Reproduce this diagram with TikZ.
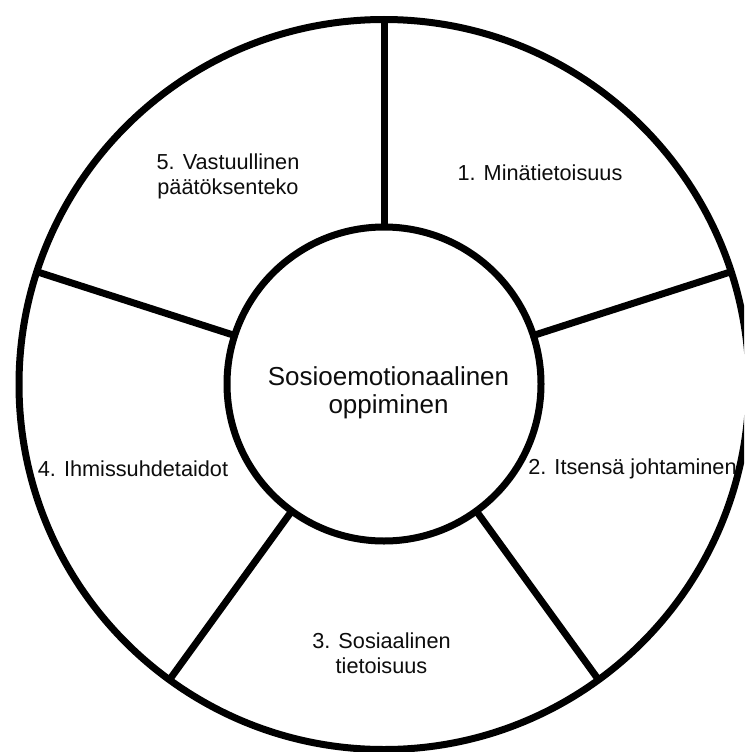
\documentclass[tikz,border=0pt]{standalone}
\usepackage{fontspec}
\setmainfont{Liberation Sans}
\begin{document}
\begin{tikzpicture}[x=1pt,y=-1pt,
  ring/.style={circle,draw=black,line width=7pt,inner sep=0pt,outer sep=0pt},
  spoke/.style={draw=black,line width=7pt},
  lbl/.style={text=black!95,font=\fontsize{21.7}{25}\selectfont,align=center,inner sep=0pt},
  mainlbl/.style={text=black!95,font=\fontsize{26}{28}\selectfont,align=center,inner sep=0pt}]
\clip (0,0) rectangle (744,752);
\useasboundingbox (0,0) rectangle (744,752);
\fill[white] (0,0) rectangle (744,752);
\node[ring,minimum size=730pt] (outer) at (384,384.5) {};
\node[ring,minimum size=314pt] (inner) at (384,384) {};
\foreach \a in {90,18,-54,-126,162}{
  \draw[spoke] (inner.\a) -- (outer.\a);
}
\node[mainlbl] (center) at (388.5,393) {Sosioemotionaalinen\\oppiminen};
\node[lbl] (l1) at (540,173) {1. Minätietoisuus};
\node[lbl] (l2) at (632.5,469) {2. Itsensä johtaminen};
\node[lbl] (l3) at (381.5,653) {3. Sosiaalinen\\tietoisuus};
\node[lbl] (l4) at (133,469) {4. Ihmissuhdetaidot};
\node[lbl] (l5) at (228,176) {5. Vastuullinen\\päätöksenteko};
\end{tikzpicture}
\end{document}
